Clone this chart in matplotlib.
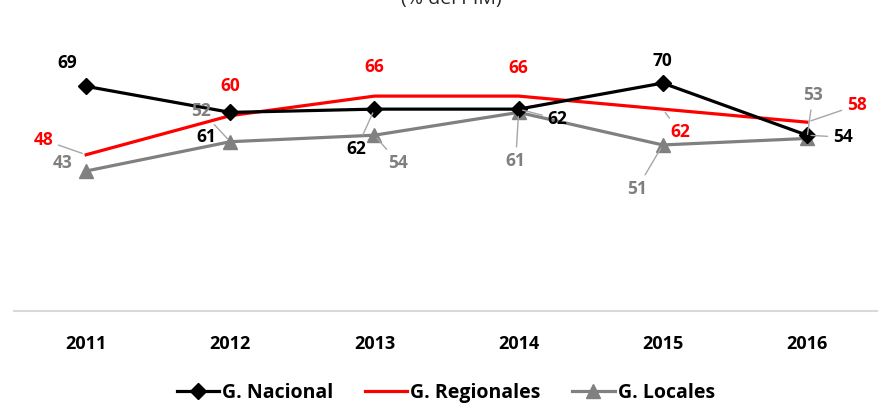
import matplotlib.pyplot as plt

plt.rcParams['font.family'] = ['Open Sans', 'DejaVu Sans']

years = ['2011', '2012', '2013', '2014', '2015', '2016']
nacional = [69, 61, 62, 62, 70, 54]
regionales = [48, 60, 66, 66, 62, 58]
locales = [43, 52, 54, 61, 51, 53]

# label offsets (pixels) and whether a leader line is drawn
off_nac = [(-19, 23, 0), (-24, -25, 0), (-18, -40, 1), (39, -10, 1), (0, 22, 0), (36, -2, 1)]
off_reg = [(-43, 15, 1), (0, 30, 0), (0, 29, 0), (0, 28, 0), (17, -23, 1), (50, 17, 1)]
off_loc = [(-24, 8, 0), (-29, 31, 1), (24, -28, 1), (-3, -49, 1), (-26, -44, 1), (6, 43, 1)]

fig = plt.figure(figsize=(8.79, 4.04), dpi=100)
ax = fig.add_axes([0.016, 0.23, 0.984, 0.645])
x = list(range(len(years)))

ax.plot(x, nacional, color='black', lw=2.3, marker='D', ms=8, label='G. Nacional', zorder=3)
ax.plot(x, regionales, color='#FF0000', lw=2.3, label='G. Regionales', zorder=2)
ax.plot(x, locales, color='#808080', lw=2.3, marker='^', ms=10, label='G. Locales', zorder=1)


def labels(vals, offs, color):
    for i, (v, (dx, dy, lead)) in enumerate(zip(vals, offs)):
        kw = {}
        if lead:
            kw['arrowprops'] = dict(arrowstyle='-', color='#A6A6A6', lw=1,
                                    shrinkA=2, shrinkB=3)
        ax.annotate(str(v), (i, v), xytext=(dx, dy), textcoords='offset pixels',
                    ha='center', va='center', color=color, fontsize=12.5,
                    fontweight='bold', **kw)


labels(nacional, off_nac, 'black')
labels(regionales, off_reg, '#FF0000')
labels(locales, off_loc, '#7F7F7F')

ax.set_xlim(-0.5, 5.5)
ax.set_ylim(0, 80)
ax.set_yticks([])
ax.set_xticks(x)
ax.set_xticklabels(years, fontsize=13, fontweight='bold')
ax.tick_params(axis='x', length=0, pad=17)
for s in ['top', 'right', 'left']:
    ax.spines[s].set_visible(False)
ax.spines['bottom'].set_color('#D9D9D9')
ax.spines['bottom'].set_linewidth(1.5)

fig.text(0.513, 1.003, '(% del PIM)', ha='center', va='center', fontsize=14, color='#262626')

fig.legend(loc='lower center', ncol=3, frameon=False, bbox_to_anchor=(0.507, -0.04),
           prop={'weight': 'bold', 'size': 14}, handlelength=2.2, columnspacing=1.6,
           handletextpad=0.15)

fig.savefig('out.png', dpi=100)
